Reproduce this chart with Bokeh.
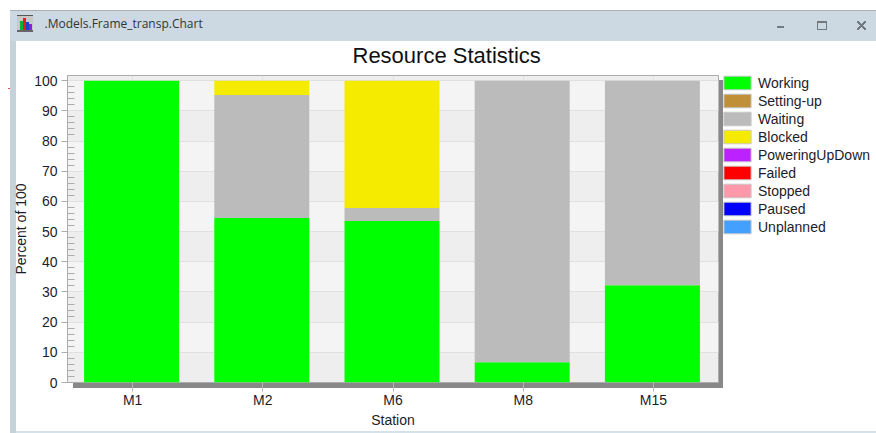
from bokeh.plotting import figure
from bokeh.models import ColumnDataSource, Legend, LegendItem, Title, FixedTicker
from bokeh.transform import dodge
from bokeh.embed import file_html
from bokeh.resources import INLINE

stations = ["M1", "M2", "M6", "M8", "M15"]
working = [100, 54.5, 53.5, 6.7, 32.2]
setting_up = [0, 0, 0, 0, 0]
waiting = [0, 40.7, 4.3, 93.3, 67.8]
blocked = [0, 4.8, 42.2, 0, 0]
powering = [0, 0, 0, 0, 0]
failed = [0, 0, 0, 0, 0]
stopped = [0, 0, 0, 0, 0]
paused = [0, 0, 0, 0, 0]
unplanned = [0, 0, 0, 0, 0]
series_names = ["Working", "Setting-up", "Waiting", "Blocked", "PoweringUpDown",
                "Failed", "Stopped", "Paused", "Unplanned"]
colors = ["#00FF00", "#C09038", "#BBBBBB", "#F5EB00", "#BB22FF",
          "#FF0000", "#FF99AA", "#0000FF", "#44A0FF"]
y_ticks = [0, 10, 20, 30, 40, 50, 60, 70, 80, 90, 100]
y_minor = [v for t in y_ticks[:-1] for v in (t + 2, t + 4, t + 6, t + 8)]

data = dict(station=stations)
for name, vals in zip(series_names, [working, setting_up, waiting, blocked, powering,
                                     failed, stopped, paused, unplanned]):
    data[name] = vals
source = ColumnDataSource(data)

W, H = 876, 433
LEFT, RIGHT, TOP, BOTTOM = 67, 718, 75, 382
FONT = "Liberation Sans"
TXT = "#1c1c2a"
SIZE = "14px"

# window chrome and plot shadow, painted behind the transparent canvas
layers = []
def box(l, r, t, b, c):
    layers.append((l, t, r - l, b - t, f"linear-gradient({c},{c})"))

def cross(l, r, t, b, c):
    for a in (45, 135):
        g = f"linear-gradient({a}deg,transparent 43%,{c} 43%,{c} 57%,transparent 57%)"
        layers.append((l, t, r - l, b - t, g))

cross(857, 866, 21, 30, "#707A80")
box(777, 784, 26, 28, "#707A80")
box(818, 826, 23, 29, "#CCD9E2")
box(817, 827, 21, 30, "#707A80")
box(20, 23, 21, 30, "#10B030")
box(23, 26, 18, 30, "#E02020")
box(26, 29, 22, 30, "#2040D0")
box(29, 32, 24, 30, "#9020D0")
box(17, 33, 15, 16, "#555555")
box(17, 33, 30, 32, "#666666")
box(17, 33, 15, 32, "#C8C8C8")
box(8, 10, 88, 89, "#E05060")
box(73, 723, 383, 388, "#888888")
box(718, 723, 80, 388, "#888888")
box(10, 876, 10, 11, "#ABB0B4")
box(10, 876, 11, 41, "#CCD9E2")
box(10, 16, 41, 433, "#C6D2DA")
box(16, 876, 431, 433, "#D6E2EA")

css = {
    "background-image": ", ".join(g for *_, g in layers),
    "background-size": ", ".join(f"{w}px {h}px" for _, _, w, h, _ in layers),
    "background-position": ", ".join(f"{x}px {y}px" for x, y, *_ in layers),
    "background-repeat": "no-repeat",
}

p = figure(x_range=stations, y_range=(0, 101.7), width=W, height=H,
           frame_width=RIGHT - LEFT, frame_height=BOTTOM - TOP,
           min_border_left=LEFT, min_border_right=W - RIGHT,
           min_border_top=TOP, min_border_bottom=H - BOTTOM,
           output_backend="svg", toolbar_location=None,
           background_fill_color="#EEEEEE", border_fill_alpha=0, styles=css)
p.x_range.range_padding = 0
p.outline_line_color = "#ABABAB"

bar_width = 95 / 130.2
p.vbar_stack(series_names, x=dodge("station", -1 / 130.2, range=p.x_range), width=bar_width,
             source=source, fill_color=colors, line_color=None)

# legend swatches: zero-size bars hidden behind the stack
legend_items = []
for name, c in zip(series_names, colors):
    r = p.vbar(x=[stations[0]], top=[0], bottom=[0], width=0, fill_color=c,
               line_color="#C8C8C8", line_width=1, level="underlay")
    legend_items.append(LegendItem(label=name, renderers=[r]))
legend = Legend(items=legend_items, location=(2, 147), orientation="vertical",
                glyph_width=34, glyph_height=17, label_height=16, spacing=1,
                label_standoff=4, padding=0, margin=0,
                background_fill_alpha=0, border_line_color=None,
                label_text_font=FONT, label_text_font_size=SIZE, label_text_color=TXT)
p.add_layout(legend, "right")

p.add_layout(Title(text="Resource Statistics", text_font=FONT, text_font_size="22px",
                   text_font_style="normal", text_color="#101010",
                   align="left", offset=285, standoff=16), "above")
p.add_layout(Title(text=".Models.Frame_transp.Chart", text_font="Open Sans", text_font_size="12px",
                   text_font_style="normal", text_color="#333333",
                   align="left", offset=-23, standoff=1), "above")

p.xgrid.grid_line_color = "#E0E0E0"
p.ygrid.grid_line_color = "#E0E0E0"
p.ygrid.band_fill_color = "#F4F4F4"
p.ygrid.band_fill_alpha = 1
p.ygrid.ticker = FixedTicker(ticks=y_ticks)

ya = p.yaxis[0]
ya.ticker = FixedTicker(ticks=y_ticks, minor_ticks=y_minor)
ya.axis_label = "Percent of 100"
ya.axis_label_text_font = FONT
ya.axis_label_text_font_size = SIZE
ya.axis_label_text_font_style = "normal"
ya.axis_label_text_color = TXT
ya.axis_label_standoff = 2
ya.major_label_text_font = FONT
ya.major_label_text_font_size = SIZE
ya.major_label_text_color = TXT
ya.major_label_standoff = 4
ya.axis_line_color = "#ABABAB"
ya.major_tick_line_color = "#ABABAB"
ya.minor_tick_line_color = "#ABABAB"
ya.major_tick_in = 0
ya.major_tick_out = 6
ya.minor_tick_in = 7
ya.minor_tick_out = 0

xa = p.xaxis[0]
xa.axis_label = "Station"
xa.axis_label_text_font = FONT
xa.axis_label_text_font_size = SIZE
xa.axis_label_text_font_style = "normal"
xa.axis_label_text_color = TXT
xa.axis_label_standoff = 1
xa.major_label_text_font = FONT
xa.major_label_text_font_size = SIZE
xa.major_label_text_color = TXT
xa.major_label_standoff = 0
xa.axis_line_color = None
xa.major_tick_line_color = "#B5B5B5"
xa.major_tick_in = 0
xa.major_tick_out = 9

open("out.html", "w").write(file_html(p, INLINE))
